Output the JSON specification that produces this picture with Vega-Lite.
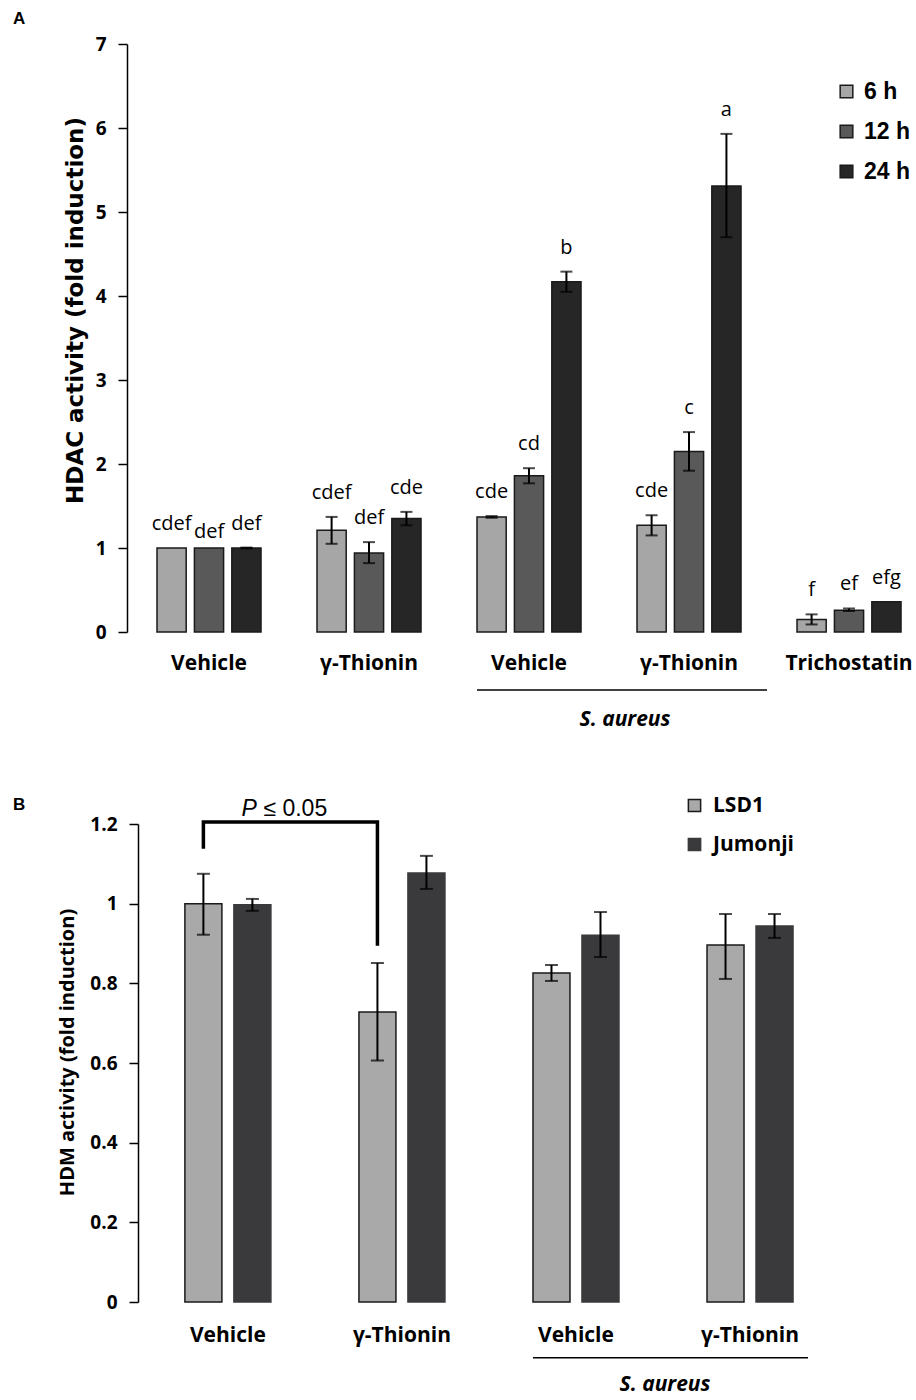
{
  "$schema": "https://vega.github.io/schema/vega-lite/v6.json",
  "background": "white",
  "padding": {"left": 13, "top": 10, "right": 0, "bottom": 0},
  "spacing": 65,
  "resolve": {"scale": {"color": "independent", "stroke": "independent", "xOffset": "independent", "x": "independent", "y": "independent"}, "legend": {"color": "independent"}},
  "config": {
    "view": {"stroke": null},
    "axis": {"grid": false, "labelColor": "black", "titleColor": "black", "domainColor": "black", "tickColor": "black"}
  },
  "vconcat": [
    {
      "width": 789,
      "height": 588,
      "title": {"text": "A", "anchor": "start", "frame": "group", "dx": -114, "offset": 7, "font": "Liberation Sans", "fontSize": 17, "fontWeight": "bold", "color": "black"},
      "data": {"values": [
        {"group": "Vehicle", "time": "6 h", "value": 1.0, "lo": 1.0, "hi": 1.0, "letter": "cdef"},
        {"group": "Vehicle", "time": "12 h", "value": 1.0, "lo": 1.0, "hi": 1.0, "letter": "def"},
        {"group": "Vehicle", "time": "24 h", "value": 1.0, "lo": 0.995, "hi": 1.005, "letter": "def"},
        {"group": "γ-Thionin", "time": "6 h", "value": 1.21, "lo": 1.05, "hi": 1.37, "letter": "cdef"},
        {"group": "γ-Thionin", "time": "12 h", "value": 0.94, "lo": 0.82, "hi": 1.07, "letter": "def"},
        {"group": "γ-Thionin", "time": "24 h", "value": 1.35, "lo": 1.27, "hi": 1.43, "letter": "cde"},
        {"group": "S. aureus Vehicle", "time": "6 h", "value": 1.37, "lo": 1.36, "hi": 1.38, "letter": "cde"},
        {"group": "S. aureus Vehicle", "time": "12 h", "value": 1.86, "lo": 1.77, "hi": 1.95, "letter": "cd"},
        {"group": "S. aureus Vehicle", "time": "24 h", "value": 4.17, "lo": 4.05, "hi": 4.29, "letter": "b"},
        {"group": "S. aureus γ-Thionin", "time": "6 h", "value": 1.27, "lo": 1.15, "hi": 1.39, "letter": "cde"},
        {"group": "S. aureus γ-Thionin", "time": "12 h", "value": 2.15, "lo": 1.92, "hi": 2.38, "letter": "c"},
        {"group": "S. aureus γ-Thionin", "time": "24 h", "value": 5.31, "lo": 4.7, "hi": 5.93, "letter": "a"},
        {"group": "Trichostatin", "time": "6 h", "value": 0.15, "lo": 0.09, "hi": 0.21, "letter": "f"},
        {"group": "Trichostatin", "time": "12 h", "value": 0.26, "lo": 0.25, "hi": 0.28, "letter": "ef"},
        {"group": "Trichostatin", "time": "24 h", "value": 0.36, "lo": 0.36, "hi": 0.36, "letter": "efg"}
      ]},
      "encoding": {
        "x": {"field": "group", "type": "nominal",
          "scale": {"domain": ["Vehicle", "γ-Thionin", "S. aureus Vehicle", "S. aureus γ-Thionin", "Trichostatin"], "paddingInner": 0.35, "paddingOuter": 0.1406, "align": 0.667},
          "axis": {"title": null, "domain": false, "ticks": false, "labelAngle": 0, "labelFont": "Open Sans", "labelFontWeight": "bold", "labelFontSize": 21, "labelColor": "black", "labelPadding": 20, "labelExpr": "replace(datum.label, 'S. aureus ', '')"}},
        "xOffset": {"field": "time", "type": "nominal", "scale": {"domain": ["6 h", "12 h", "24 h"], "range": [0, 104], "paddingInner": 0.22, "paddingOuter": 0}}
      },
      "layer": [
        {
          "mark": {"type": "bar", "stroke": "#1a1a1a", "strokeWidth": 1.5},
          "encoding": {
            "y": {"field": "value", "type": "quantitative", "scale": {"domain": [0, 7], "nice": false},
              "axis": {"title": "HDAC activity (fold induction)", "values": [0, 1, 2, 3, 4, 5, 6, 7], "format": "d", "domainWidth": 1.5, "tickWidth": 1.5, "tickSize": 9, "labelPadding": 12, "labelFont": "Open Sans", "labelFontWeight": "bold", "labelFontSize": 19, "titleFont": "DejaVu Sans", "titleFontWeight": "bold", "titleFontSize": 23, "titlePadding": 8, "titleY": 266}},
            "color": {"field": "time", "type": "nominal", "scale": {"domain": ["6 h", "12 h", "24 h"], "range": ["#a6a6a6", "#595959", "#262626"]},
              "legend": {"title": null, "orient": "none", "legendX": 708, "legendY": 36, "symbolType": "square", "symbolSize": 160, "symbolStrokeColor": "#1a1a1a", "symbolStrokeWidth": 1.5, "labelFont": "Liberation Sans", "labelFontWeight": "bold", "labelFontSize": 23, "labelColor": "black", "rowPadding": 16, "labelOffset": 6}}
          }
        },
        {
          "transform": [{"filter": "datum.hi > datum.lo"}],
          "mark": {"type": "rule", "color": "black", "strokeWidth": 2},
          "encoding": {"y": {"field": "lo", "type": "quantitative"}, "y2": {"field": "hi"}}
        },
        {
          "transform": [{"filter": "datum.hi > datum.lo"}],
          "mark": {"type": "tick", "color": "black", "thickness": 2, "size": 12, "orient": "horizontal"},
          "encoding": {"y": {"field": "hi", "type": "quantitative"}}
        },
        {
          "transform": [{"filter": "datum.hi > datum.lo"}],
          "mark": {"type": "tick", "color": "black", "thickness": 2, "size": 12, "orient": "horizontal"},
          "encoding": {"y": {"field": "lo", "type": "quantitative"}}
        },
        {
          "transform": [{"filter": "!(datum.group == 'Vehicle' && datum.time == '12 h')"}],
          "mark": {"type": "text", "font": "Open Sans", "fontSize": 20, "color": "black", "baseline": "alphabetic", "dy": -18},
          "encoding": {"y": {"field": "hi", "type": "quantitative"}, "text": {"field": "letter"}}
        },
        {
          "transform": [{"filter": "datum.group == 'Vehicle' && datum.time == '12 h'"}],
          "mark": {"type": "text", "font": "Open Sans", "fontSize": 20, "color": "black", "baseline": "alphabetic", "dy": -10},
          "encoding": {"y": {"field": "hi", "type": "quantitative"}, "text": {"field": "letter"}}
        },
        {
          "data": {"values": [{"start": "S. aureus Vehicle", "end": "S. aureus γ-Thionin", "y": -0.69, "label": "S. aureus"}]},
          "layer": [
            {
              "mark": {"type": "rule", "color": "black", "strokeWidth": 1.5, "x2Offset": 78},
              "encoding": {
                "x": {"field": "start", "type": "nominal", "bandPosition": -0.04},
                "x2": {"field": "end"},
                "xOffset": {"value": 0},
                "y": {"field": "y", "type": "quantitative"}
              }
            },
            {
              "mark": {"type": "text", "font": "Open Sans", "fontSize": 21, "fontWeight": "bold", "fontStyle": "italic", "color": "black", "baseline": "middle", "dx": -12, "dy": 30},
              "encoding": {
                "x": {"field": "end", "type": "nominal", "bandPosition": 0},
                "xOffset": {"value": 0},
                "y": {"field": "y", "type": "quantitative"},
                "text": {"field": "label"}
              }
            }
          ]
        }
      ]
    },
    {
      "width": 700,
      "height": 478,
      "title": {"text": "B", "anchor": "start", "frame": "group", "dx": -114, "dy": 19, "offset": 0, "font": "Liberation Sans", "fontSize": 17, "fontWeight": "bold", "color": "black"},
      "data": {"values": [
        {"group": "Vehicle", "series": "LSD1", "value": 1.0, "lo": 0.922, "hi": 1.075},
        {"group": "Vehicle", "series": "Jumonji", "value": 0.997, "lo": 0.982, "hi": 1.012},
        {"group": "γ-Thionin", "series": "LSD1", "value": 0.728, "lo": 0.606, "hi": 0.851},
        {"group": "γ-Thionin", "series": "Jumonji", "value": 1.077, "lo": 1.037, "hi": 1.12},
        {"group": "S. aureus Vehicle", "series": "LSD1", "value": 0.826, "lo": 0.806, "hi": 0.846},
        {"group": "S. aureus Vehicle", "series": "Jumonji", "value": 0.921, "lo": 0.866, "hi": 0.979},
        {"group": "S. aureus γ-Thionin", "series": "LSD1", "value": 0.896, "lo": 0.811, "hi": 0.974},
        {"group": "S. aureus γ-Thionin", "series": "Jumonji", "value": 0.944, "lo": 0.914, "hi": 0.974}
      ]},
      "encoding": {
        "x": {"field": "group", "type": "nominal",
          "scale": {"domain": ["Vehicle", "γ-Thionin", "S. aureus Vehicle", "S. aureus γ-Thionin"], "paddingInner": 0.506, "paddingOuter": 0.264, "align": 0.63},
          "axis": {"title": null, "domain": false, "ticks": false, "labelAngle": 0, "labelFont": "Open Sans", "labelFontWeight": "bold", "labelFontSize": 21, "labelColor": "black", "labelPadding": 22, "labelExpr": "replace(datum.label, 'S. aureus ', '')"}},
        "xOffset": {"field": "series", "type": "nominal", "scale": {"domain": ["LSD1", "Jumonji"], "range": [0, 86], "paddingInner": 0.245, "paddingOuter": 0}}
      },
      "layer": [
        {
          "mark": {"type": "bar", "strokeWidth": 1.5},
          "encoding": {
            "y": {"field": "value", "type": "quantitative", "scale": {"domain": [0, 1.2], "nice": false},
              "axis": {"title": "HDM activity (fold induction)", "values": [0, 0.2, 0.4, 0.6, 0.8, 1, 1.2], "format": "~g", "offset": -11, "domainWidth": 1.5, "tickWidth": 1.5, "tickSize": 9, "labelPadding": 12, "labelFont": "Open Sans", "labelFontWeight": "bold", "labelFontSize": 19, "titleFont": "Open Sans", "titleFontWeight": "bold", "titleFontSize": 20, "titlePadding": 12, "titleY": 228}},
            "color": {"field": "series", "type": "nominal", "scale": {"domain": ["LSD1", "Jumonji"], "range": ["#a9a9a9", "#3a393b"]},
              "legend": {"title": null, "orient": "none", "legendX": 557, "legendY": -29, "symbolType": "square", "symbolSize": 150, "symbolStrokeColor": "#1a1a1a", "symbolStrokeWidth": 1.5, "labelFont": "Open Sans", "labelFontWeight": "bold", "labelFontSize": 21, "labelColor": "black", "rowPadding": 17, "labelOffset": 8}},
            "stroke": {"field": "series", "type": "nominal", "scale": {"domain": ["LSD1", "Jumonji"], "range": ["#1a1a1a", "#3a393b"]}, "legend": null}
          }
        },
        {
          "mark": {"type": "rule", "color": "black", "strokeWidth": 2},
          "encoding": {"y": {"field": "lo", "type": "quantitative"}, "y2": {"field": "hi"}}
        },
        {
          "mark": {"type": "tick", "color": "black", "thickness": 2, "size": 13, "orient": "horizontal"},
          "encoding": {"y": {"field": "hi", "type": "quantitative"}}
        },
        {
          "mark": {"type": "tick", "color": "black", "thickness": 2, "size": 13, "orient": "horizontal"},
          "encoding": {"y": {"field": "lo", "type": "quantitative"}}
        },
        {
          "data": {"values": [
            {"group": "Vehicle", "series": "LSD1", "y": 1.142, "k": 1},
            {"group": "Vehicle", "series": "LSD1", "y": 1.205, "k": 2},
            {"group": "γ-Thionin", "series": "LSD1", "y": 1.205, "k": 3},
            {"group": "γ-Thionin", "series": "LSD1", "y": 0.899, "k": 4}
          ]},
          "mark": {"type": "line", "color": "black", "strokeWidth": 3.5, "strokeJoin": "miter", "strokeCap": "square"},
          "encoding": {"y": {"field": "y", "type": "quantitative"}, "order": {"field": "k"}}
        },
        {
          "data": {"values": [{"group": "Vehicle", "series": "LSD1", "y": 1.219, "p": "P", "rest": "≤ 0.05"}]},
          "layer": [
            {
              "mark": {"type": "text", "font": "Liberation Sans", "fontSize": 23, "fontStyle": "italic", "color": "black", "align": "left", "baseline": "alphabetic", "dx": 38},
              "encoding": {"y": {"field": "y", "type": "quantitative"}, "text": {"field": "p"}}
            },
            {
              "mark": {"type": "text", "font": "Liberation Sans", "fontSize": 23, "color": "black", "align": "left", "baseline": "alphabetic", "dx": 60},
              "encoding": {"y": {"field": "y", "type": "quantitative"}, "text": {"field": "rest"}}
            }
          ]
        },
        {
          "data": {"values": [{"start": "S. aureus Vehicle", "end": "S. aureus γ-Thionin", "y": -0.14, "label": "S. aureus"}]},
          "layer": [
            {
              "mark": {"type": "rule", "color": "black", "strokeWidth": 1.5, "x2Offset": 58},
              "encoding": {
                "x": {"field": "start", "type": "nominal", "bandPosition": -0.093},
                "x2": {"field": "end"},
                "xOffset": {"value": 0},
                "y": {"field": "y", "type": "quantitative"}
              }
            },
            {
              "mark": {"type": "text", "font": "Open Sans", "fontSize": 21, "fontWeight": "bold", "fontStyle": "italic", "color": "black", "baseline": "middle", "dx": -42, "dy": 27},
              "encoding": {
                "x": {"field": "end", "type": "nominal", "bandPosition": 0},
                "xOffset": {"value": 0},
                "y": {"field": "y", "type": "quantitative"},
                "text": {"field": "label"}
              }
            }
          ]
        }
      ]
    }
  ]
}
